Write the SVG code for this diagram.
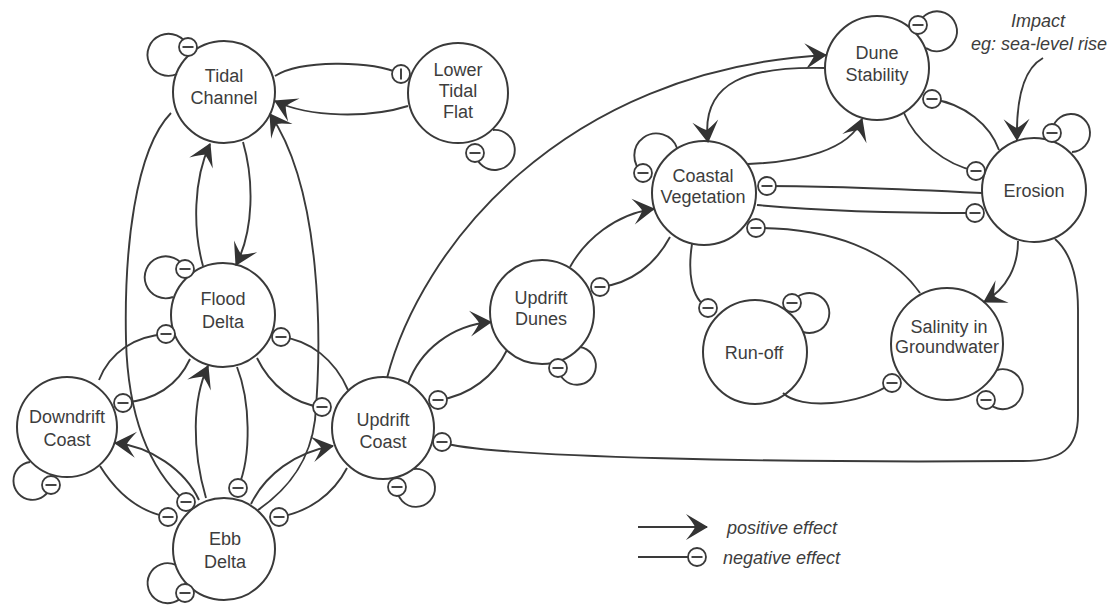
<svg xmlns="http://www.w3.org/2000/svg" width="1117" height="608" viewBox="0 0 1117 608">
  <defs>
    <style>
      .node circle { fill: #ffffff; stroke: #3a3a3a; stroke-width: 2; }
      .node text, .lbl { font-family: "Liberation Sans", Arial, Helvetica, sans-serif; font-size: 18px; fill: #3d3d3d; text-anchor: middle; }
      .lbl.it { font-style: italic; }
      .lbl.start { text-anchor: start; }
      .ln { fill: none; stroke: #3a3a3a; stroke-width: 1.9; }
      .pos { marker-end: url(#arrow); }
      .neg { marker-end: url(#minus); }
      .negbar { marker-end: url(#bar); }
    </style>
    <!-- swept arrowhead for a positive effect -->
    <marker id="arrow" markerUnits="userSpaceOnUse" orient="auto" viewBox="-26 -15 30 30" markerWidth="30" markerHeight="30" refX="0" refY="0">
      <path d="M1,0 L-21,-13 Q-13,-3 -12,0 Q-13,3 -21,13 Z" fill="#333333"/>
    </marker>
    <!-- circled minus for a negative effect, always upright -->
    <marker id="minus" markerUnits="userSpaceOnUse" orient="0" viewBox="-12 -12 24 24" markerWidth="24" markerHeight="24" refX="0" refY="0">
      <circle r="9" fill="#ffffff" stroke="#3a3a3a" stroke-width="1.8"/>
      <line x1="-5.5" y1="0" x2="5.5" y2="0" stroke="#3a3a3a" stroke-width="1.9"/>
    </marker>
    <marker id="bar" markerUnits="userSpaceOnUse" orient="0" viewBox="-12 -12 24 24" markerWidth="24" markerHeight="24" refX="0" refY="0">
      <circle r="9" fill="#ffffff" stroke="#3a3a3a" stroke-width="1.8"/>
      <line x1="0" y1="-5.5" x2="0" y2="5.5" stroke="#3a3a3a" stroke-width="1.9"/>
    </marker>
  </defs>

  <rect width="1117" height="608" fill="#ffffff"/>

  <!-- nodes -->
  <g id="tidal-channel" class="node">
    <circle cx="224" cy="92" r="51"/>
    <text x="224" y="82">Tidal</text>
    <text x="224" y="104">Channel</text>
  </g>
  <g id="lower-tidal-flat" class="node">
    <circle cx="458" cy="93" r="50"/>
    <text x="458" y="76">Lower</text>
    <text x="458" y="97">Tidal</text>
    <text x="458" y="118">Flat</text>
  </g>
  <g id="flood-delta" class="node">
    <circle cx="223" cy="315" r="52"/>
    <text x="223" y="305">Flood</text>
    <text x="223" y="328">Delta</text>
  </g>
  <g id="downdrift-coast" class="node">
    <circle cx="67" cy="427" r="50"/>
    <text x="67" y="423">Downdrift</text>
    <text x="67" y="446">Coast</text>
  </g>
  <g id="ebb-delta" class="node">
    <circle cx="224" cy="549" r="51"/>
    <text x="225" y="545">Ebb</text>
    <text x="225" y="568">Delta</text>
  </g>
  <g id="updrift-coast" class="node">
    <circle cx="383" cy="428" r="51"/>
    <text x="383" y="426">Updrift</text>
    <text x="383" y="448">Coast</text>
  </g>
  <g id="updrift-dunes" class="node">
    <circle cx="542" cy="312" r="52"/>
    <text x="541" y="304">Updrift</text>
    <text x="541" y="325">Dunes</text>
  </g>
  <g id="coastal-vegetation" class="node">
    <circle cx="704" cy="193" r="52"/>
    <text x="703" y="182">Coastal</text>
    <text x="703" y="203">Vegetation</text>
  </g>
  <g id="dune-stability" class="node">
    <circle cx="877" cy="68" r="52"/>
    <text x="877" y="59">Dune</text>
    <text x="877" y="81">Stability</text>
  </g>
  <g id="erosion" class="node">
    <circle cx="1034" cy="190" r="52"/>
    <text x="1034" y="197">Erosion</text>
  </g>
  <g id="run-off" class="node">
    <circle cx="755" cy="352" r="52"/>
    <text x="754" y="359">Run-off</text>
  </g>
  <g id="salinity-groundwater" class="node">
    <circle cx="947" cy="344" r="56"/>
    <text x="949" y="333">Salinity in</text>
    <text x="947" y="353">Groundwater</text>
  </g>

  <!-- connectors -->
  <g id="connectors">
    <!-- tidal channel / lower tidal flat -->
    <path class="ln negbar" d="M275,76 C300,60 370,60 401,74"/>
    <path class="ln pos" d="M408,106 C370,118 310,118 275,101"/>
    <!-- tidal channel / flood delta -->
    <path class="ln pos" d="M203,266 C193,230 193,180 210,144"/>
    <path class="ln pos" d="M243,142 C254,180 254,230 236,265"/>
    <!-- long links tidal channel / ebb delta -->
    <path class="ln neg" d="M171,113 C135,150 124,250 126,340 C128,420 150,470 186,502"/>
    <path class="ln pos" d="M258,510 C290,488 310,460 315,420 C322,340 322,190 270,114"/>
    <!-- flood delta / ebb delta -->
    <path class="ln pos" d="M206,498 C192,450 192,400 208,366"/>
    <path class="ln neg" d="M237,367 C250,400 252,455 238,488"/>
    <!-- flood delta / downdrift coast -->
    <path class="ln neg" d="M99,380 C110,352 135,336 166,334"/>
    <path class="ln neg" d="M190,359 C178,385 155,400 123,403"/>
    <!-- flood delta / updrift coast -->
    <path class="ln neg" d="M348,390 C335,360 310,340 281,337"/>
    <path class="ln neg" d="M257,358 C270,385 295,405 322,407"/>
    <!-- ebb delta / downdrift coast -->
    <path class="ln pos" d="M199,500 C185,470 150,446 115,443"/>
    <path class="ln neg" d="M100,466 C118,495 140,512 168,517"/>
    <!-- ebb delta / updrift coast -->
    <path class="ln pos" d="M251,504 C265,475 295,452 333,446"/>
    <path class="ln neg" d="M347,468 C333,495 308,512 279,517"/>
    <!-- updrift coast / updrift dunes -->
    <path class="ln pos" d="M408,384 C420,350 452,325 491,322"/>
    <path class="ln neg" d="M507,350 C495,375 470,396 438,400"/>
    <!-- updrift coast to dune stability -->
    <path class="ln pos" d="M387,378 C420,250 560,70 826,55"/>
    <!-- erosion back to updrift coast -->
    <path class="ln neg" d="M1055,239 C1070,252 1078,275 1078,310 L1078,415 C1078,448 1062,461 1023,461 C800,463 480,458 442,442"/>
    <!-- updrift dunes / coastal vegetation -->
    <path class="ln pos" d="M570,267 C585,240 615,214 654,209"/>
    <path class="ln neg" d="M670,237 C655,265 630,284 600,287"/>
    <!-- dune stability / coastal vegetation -->
    <path class="ln pos" d="M826,68 C750,66 700,80 708,142"/>
    <path class="ln pos" d="M748,164 C800,162 850,150 862,119"/>
    <!-- erosion / coastal vegetation -->
    <path class="ln neg" d="M982,193 C900,189 830,186 767,186"/>
    <path class="ln neg" d="M757,205 C830,212 900,213 975,213"/>
    <!-- salinity / coastal vegetation -->
    <path class="ln neg" d="M920,293 C890,250 830,228 756,228"/>
    <!-- coastal vegetation / run-off -->
    <path class="ln neg" d="M692,244 C688,270 690,298 708,308"/>
    <!-- run-off / salinity -->
    <path class="ln neg" d="M783,393 C800,410 860,406 892,383"/>
    <!-- dune stability / erosion -->
    <path class="ln neg" d="M904,113 C915,140 945,165 976,171"/>
    <path class="ln neg" d="M999,150 C990,125 965,104 932,99"/>
    <!-- erosion to salinity -->
    <path class="ln pos" d="M1018,241 C1018,265 1008,288 984,302"/>
    <!-- external impact on erosion -->
    <path class="ln pos" d="M1043,58 C1025,68 1016,95 1017,140"/>

    <!-- self-regulating loops -->
    <path class="ln neg" d="M177,74 A21,21 0 1 1 188,47"/>
    <path class="ln neg" d="M493,130 A20,20 0 1 1 475,153"/>
    <path class="ln neg" d="M173,297 A21,21 0 1 1 185,269"/>
    <path class="ln neg" d="M30,462 A19,19 0 1 0 51,485"/>
    <path class="ln neg" d="M176,565 A20,20 0 1 0 185,593"/>
    <path class="ln neg" d="M414,469 A19,19 0 1 1 397,487"/>
    <path class="ln neg" d="M580,347 A19,19 0 1 1 558,368"/>
    <path class="ln neg" d="M677,148 A22,22 0 1 0 643,173"/>
    <path class="ln neg" d="M926,48 A20,20 0 1 0 918,25"/>
    <path class="ln neg" d="M1072,152 A19,19 0 1 0 1052,133"/>
    <path class="ln neg" d="M803,332 A20,20 0 1 0 792,303"/>
    <path class="ln neg" d="M997,370 A20,20 0 1 1 986,400"/>
  </g>

  <!-- impact note -->
  <g id="impact">
    <text class="lbl it" x="1038" y="27">Impact</text>
    <text class="lbl it" x="1039" y="50">eg: sea-level rise</text>
  </g>

  <!-- legend -->
  <g id="legend">
    <path class="ln pos" d="M638,527 L707,527"/>
    <path class="ln neg" d="M638,557 L697,557"/>
    <text class="lbl it start" x="727" y="534">positive effect</text>
    <text class="lbl it start" x="723" y="564">negative effect</text>
  </g>
</svg>
